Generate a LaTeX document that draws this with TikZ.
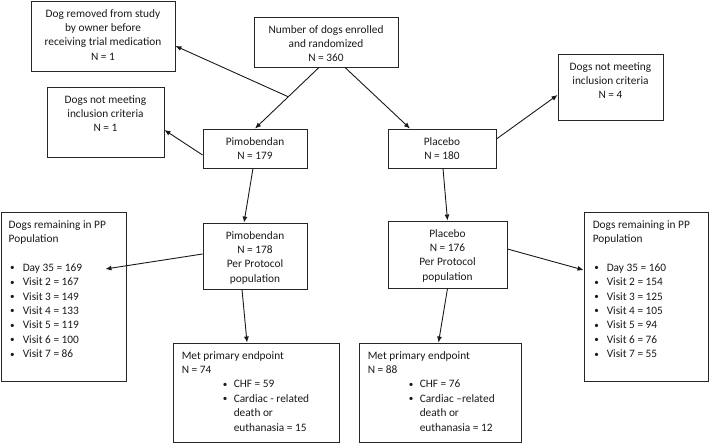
\documentclass[tikz,border=0pt]{standalone}
\usepackage{fontspec}
\setmainfont{Carlito}
\usetikzlibrary{arrows.meta,calc}
\newcommand\sbul{\raisebox{0.6pt}{\scalebox{0.8}{•}}}
\newcommand\bl[1]{\hspace*{1.5pt}\makebox[12.5pt][l]{\sbul}#1}
\newcommand\bi[1]{\hspace*{41pt}\makebox[11pt][l]{\sbul}#1}
\newcommand\bc[1]{\hspace*{52pt}#1}
\begin{document}
\begin{tikzpicture}[x=1pt,y=-1pt,
  box/.style={draw=black!85, line width=0.9pt, inner sep=0pt},
  txt/.style={inner sep=0pt, font=\fontsize{11.35}{14.4}\selectfont, text=black!90, execute at begin node=\strut},
  ctxt/.style={txt, align=center, anchor=north},
  ltxt/.style={txt, align=left, anchor=north west},
  arr/.style={draw=black!90, line width=0.9pt, -{Latex[length=6pt,width=5pt]}}]
\useasboundingbox (0,0) rectangle (709,443);
% boxes
\node[box, minimum width=144pt, minimum height=70pt] (A) at (103,36) {};
\node[box, minimum width=144pt, minimum height=50pt] (B) at (326,42) {};
\node[box, minimum width=117pt, minimum height=70pt] (C) at (105.5,122) {};
\node[box, minimum width=104pt, minimum height=39pt] (D) at (255,148.5) {};
\node[box, minimum width=108pt, minimum height=39pt] (E) at (442,148.5) {};
\node[box, minimum width=105pt, minimum height=66pt] (F) at (610.5,87) {};
\node[box, minimum width=125pt, minimum height=169pt] (G) at (63.5,296.5) {};
\node[box, minimum width=104pt, minimum height=66pt] (H) at (255,256) {};
\node[box, minimum width=166pt, minimum height=99pt] (I) at (256,392.5) {};
\node[box, minimum width=119pt, minimum height=67pt] (J) at (447.5,254.5) {};
\node[box, minimum width=124pt, minimum height=169pt] (K) at (646,296.5) {};
\node[box, minimum width=162pt, minimum height=99pt] (L) at (440,392.5) {};
% texts
\node[ctxt] (At) at ([yshift=-8.5pt]A.north) {Dog removed from study\\by owner before\\receiving trial medication\\N = 1};
\node[ctxt] (Bt) at ([yshift=-8.5pt]B.north) {Number of dogs enrolled\\and randomized\\N = 360};
\node[ctxt] (Ct) at ([yshift=-8.5pt]C.north) {Dogs not meeting\\inclusion criteria\\N = 1};
\node[ctxt] (Dt) at ([yshift=-8.5pt]D.north) {Pimobendan\\N = 179};
\node[ctxt] (Et) at ([yshift=-8.5pt]E.north) {Placebo\\N = 180};
\node[ctxt] (Ft) at ([yshift=-8.5pt]F.north) {Dogs not meeting\\inclusion criteria\\N = 4};
\node[ctxt] (Ht) at ([yshift=-8.5pt]H.north) {Pimobendan\\N = 178\\Per Protocol\\population};
\node[ctxt] (Jt) at ([yshift=-8.5pt]J.north) {Placebo\\N = 176\\Per Protocol\\population};
\node[ltxt] (Gt) at ([xshift=8pt,yshift=-8.5pt]G.north west) {Dogs remaining in PP\\Population\\[14.4pt]\bl{Day 35 = 169}\\\bl{Visit 2 = 167}\\\bl{Visit 3 = 149}\\\bl{Visit 4 = 133}\\\bl{Visit 5 = 119}\\\bl{Visit 6 = 100}\\\bl{Visit 7 = 86}};
\node[ltxt] (Kt) at ([xshift=9pt,yshift=-8.5pt]K.north west) {Dogs remaining in PP\\Population\\[14.4pt]\bl{Day 35 = 160}\\\bl{Visit 2 = 154}\\\bl{Visit 3 = 125}\\\bl{Visit 4 = 105}\\\bl{Visit 5 = 94}\\\bl{Visit 6 = 76}\\\bl{Visit 7 = 55}};
\node[ltxt] (It) at ([xshift=9pt,yshift=-8.5pt]I.north west) {Met primary endpoint\\N = 74\\\bi{CHF = 59}\\\bi{Cardiac - related}\\\bc{death or}\\\bc{euthanasia = 15}};
\node[ltxt] (Lt) at ([xshift=9pt,yshift=-8.5pt]L.north west) {Met primary endpoint\\N = 88\\\bi{CHF = 76}\\\bi{Cardiac –related}\\\bc{death or}\\\bc{euthanasia = 12}};
% connectors
\coordinate (bs) at ([xshift=-7pt]B.south);
\coordinate (j) at ($(bs)!0.48!(D.north)$);
\draw[arr] (bs) -- (D.north);
\draw[arr] (j) -- ([yshift=-10pt]A.east);
\draw[arr] ([xshift=19pt]B.south) -- ([xshift=-32pt]E.north);
\draw[arr] ([yshift=-6.5pt]D.west) -- ([yshift=-8pt]C.east);
\draw[arr] ([yshift=9.5pt]E.east) -- ([yshift=-8pt]F.west);
\draw[arr] ([xshift=-2pt]D.south) -- ([xshift=-11pt]H.north);
\draw[arr] ([xshift=1pt]E.south) -- (J.north);
\draw[arr] ([yshift=2pt]H.west) -- ([xshift=-21pt,yshift=27.5pt]G.east);
\draw[arr] ([yshift=5.5pt]J.east) -- ([yshift=26.5pt]K.west);
\draw[arr] ([xshift=-13pt]H.south) -- ([xshift=-9pt]I.north);
\draw[arr] (J.south) -- ([xshift=-1.5pt]L.north);
\end{tikzpicture}
\end{document}
